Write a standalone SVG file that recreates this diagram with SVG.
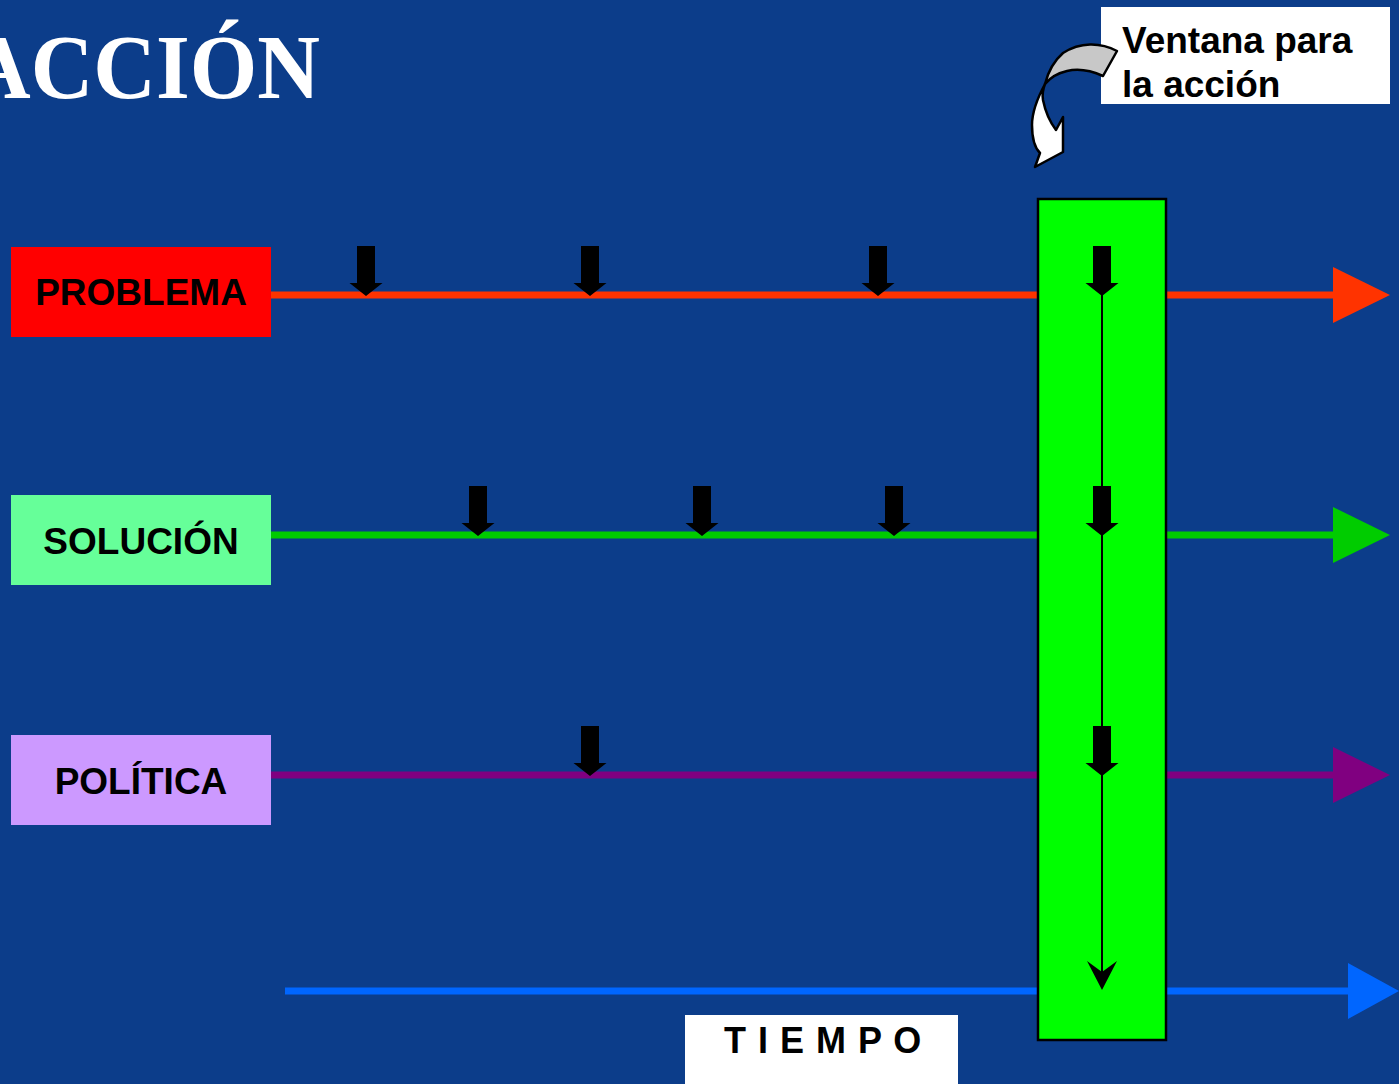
<svg xmlns="http://www.w3.org/2000/svg" xmlns:xlink="http://www.w3.org/1999/xlink" width="1399" height="1084" viewBox="0 0 1399 1084">
<style>
.lbl{font-family:"Liberation Sans",Arial,sans-serif;font-weight:bold;font-size:37px;fill:#000;text-anchor:middle}
.note{font-family:"Liberation Sans",Arial,sans-serif;font-weight:bold;font-size:37px;fill:#000}
.title{font-family:"Liberation Serif","Times New Roman",serif;font-weight:bold;font-size:92px;fill:#fff}
.tl{fill:none;stroke-width:7}
</style>
<defs>
<path id="drop" d="M-9,-49 H9 V-12 H16.5 L0,1 L-16.5,-12 H-9 Z" fill="#000"/>
</defs>
<rect x="0" y="0" width="1399" height="1084" fill="#0C3D8A"/>
<text class="title" x="-32" y="98" textLength="352" lengthAdjust="spacingAndGlyphs">ACCIÓN</text>

<g id="connectors">
<line class="tl" x1="271" y1="295" x2="1336" y2="295" stroke="#FF3300"/>
<polygon points="1333,267 1390,295 1333,323" fill="#FF3300"/>
<line class="tl" x1="271" y1="535" x2="1336" y2="535" stroke="#00CC00"/>
<polygon points="1333,507 1390,535 1333,563" fill="#00CC00"/>
<line class="tl" x1="271" y1="775" x2="1336" y2="775" stroke="#800080"/>
<polygon points="1333,747 1390,775 1333,803" fill="#800080"/>
<line class="tl" x1="285" y1="991" x2="1351" y2="991" stroke="#0066FF"/>
<polygon points="1348,963 1399,991 1348,1019" fill="#0066FF"/>
</g>

<g id="ventana-rect">
<rect x="1038" y="199" width="128" height="841" fill="#00FF00" stroke="#000" stroke-width="2.5"/>
<line x1="1102" y1="250" x2="1102" y2="975" stroke="#000" stroke-width="2"/>
<path d="M1102,990 L1087,961 L1102,972 L1117,961 Z" fill="#000"/>
</g>

<g id="drops">
<use xlink:href="#drop" x="366" y="295"/>
<use xlink:href="#drop" x="590" y="295"/>
<use xlink:href="#drop" x="878" y="295"/>
<use xlink:href="#drop" x="1102" y="295"/>
<use xlink:href="#drop" x="478" y="535"/>
<use xlink:href="#drop" x="702" y="535"/>
<use xlink:href="#drop" x="894" y="535"/>
<use xlink:href="#drop" x="1102" y="535"/>
<use xlink:href="#drop" x="590" y="775"/>
<use xlink:href="#drop" x="1102" y="775"/>
</g>

<g id="problema">
<rect x="11" y="247" width="260" height="90" fill="#FF0000"/>
<text class="lbl" x="141" y="305">PROBLEMA</text>
</g>
<g id="solucion">
<rect x="11" y="495" width="260" height="90" fill="#66FF99"/>
<text class="lbl" x="141" y="554">SOLUCIÓN</text>
</g>
<g id="politica">
<rect x="11" y="735" width="260" height="90" fill="#CC99FF"/>
<text class="lbl" x="141" y="794">POLÍTICA</text>
</g>

<g id="tiempo">
<rect x="685" y="1015" width="273" height="75" fill="#fff"/>
<text class="note" x="724" y="1053" style="font-size:36px;letter-spacing:1px">T I E M P O</text>
</g>

<g id="ventana-label">
<rect x="1101" y="7" width="289" height="97" fill="#fff"/>
<text class="note" x="1122" y="53">Ventana para</text>
<text class="note" x="1122" y="97">la acción</text>
</g>

<g id="curved-arrow" stroke="#000" stroke-width="2.5" stroke-linejoin="round">
<path d="M1117,51 C1100,42 1080,42 1063,53 C1055,60 1048,72 1045,84 C1050,78 1058,73 1067,71 C1080,68 1092,71 1103,76 Z" fill="#C8C8C8"/>
<path d="M1045,84 C1038,97 1032,112 1032,125 C1032,138 1035,148 1040,153 L1035,167 L1063,152 L1063,117 L1056,130 C1050,122 1045,110 1043,100 C1042,94 1043,89 1045,84 Z" fill="#fff"/>
</g>
</svg>
